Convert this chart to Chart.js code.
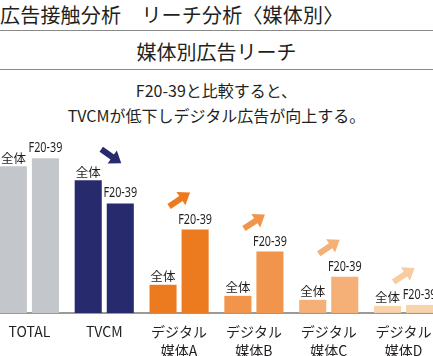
<!DOCTYPE html>
<html><head><meta charset="utf-8">
<script src="https://cdn.jsdelivr.net/npm/chart.js@4"></script>
<style>
html,body{margin:0;padding:0;width:433px;height:356px;overflow:hidden;background:#fff;font-family:'Noto Sans CJK JP','Noto Sans',sans-serif;color:#231f20;}
#h1{position:absolute;left:0;top:2px;font-size:20px;line-height:26px;white-space:nowrap;letter-spacing:0.2px;}
#l1{position:absolute;left:0;top:30px;width:433px;height:0;border-top:1.5px solid #8a8a8a;}
#h2{position:absolute;left:0;top:38px;width:433px;text-align:center;font-size:20px;line-height:28px;}
#l2{position:absolute;left:0;top:69px;width:433px;height:0;border-top:1.5px solid #8a8a8a;}
#sub{position:absolute;left:0;top:78px;width:433px;text-align:center;font-size:16px;line-height:25px;font-weight:400;}
#wrap{position:absolute;left:-8px;top:125px;}
</style></head><body>
<div id="h1">広告接触分析　リーチ分析〈媒体別〉</div>
<div id="l1"></div>
<div id="h2">媒体別広告リーチ</div>
<div id="l2"></div>
<div id="sub">F20-39と比較すると、<br>TVCMが低下しデジタル広告が向上する。</div>
<div id="wrap"><canvas id="c" width="449" height="244"></canvas></div>
<script>
const categories = ['TOTAL', 'TVCM', ['デジタル','媒体A'], ['デジタル','媒体B'], ['デジタル','媒体C'], ['デジタル','媒体D']];
const seriesNames = ['全体', 'F20-39'];
const allValues = [58.4, 52.8, 11.2, 6.8, 5.2, 2.8];
const f2039Values = [61.6, 43.6, 33.2, 24.4, 14.4, 3.2];
const barColors = ['#c3c6ca', '#272a6d', '#ec7a1f', '#f0954b', '#f4b077', '#f9d3ab'];
const arrowColors = [null, '#272a6d', '#ec7a1f', '#f0954b', '#f4b077', '#f8cc9e'];
const arrowDirs = [0, -1, 1, 1, 1, 1];

const labelPlugin = {
  id: 'barLabels',
  afterDatasetsDraw(chart) {
    const ctx = chart.ctx;
    ctx.save();
    chart.data.datasets.forEach((ds, di) => {
      const meta = chart.getDatasetMeta(di);
      meta.data.forEach(bar => {
        ctx.fillStyle = '#231f20';
        ctx.textAlign = 'center';
        ctx.textBaseline = 'bottom';
        if (di === 0) {
          ctx.font = "12.5px 'Noto Sans CJK JP'";
          ctx.fillText(ds.label, bar.x, bar.y - 2);
        } else {
          ctx.save();
          ctx.translate(bar.x, bar.y - 3);
          ctx.scale(0.8, 1);
          ctx.font = "13.5px 'Noto Sans'";
          ctx.fillText(ds.label, 0, 0);
          ctx.restore();
        }
      });
    });
    // arrows
    const m0 = chart.getDatasetMeta(0), m1 = chart.getDatasetMeta(1);
    arrowDirs.forEach((d, i) => {
      if (!d) return;
      const cx = (m0.data[i].x + m1.data[i].x) / 2;
      let x0, y0, x1, y1;
      if (d > 0) {
        const top = m1.data[i].y;
        x0 = cx - 10; y0 = top - 23; x1 = cx + 11; y1 = top - 37;
      } else {
        const top = m0.data[i].y;
        x0 = cx - 3; y0 = top - 31; x1 = cx + 17; y1 = top - 17;
      }
      const ang = Math.atan2(y1 - y0, x1 - x0);
      const len = Math.hypot(x1 - x0, y1 - y0);
      const hl = 11, hw = 8, sw = 3;
      ctx.save();
      ctx.translate(x0, y0);
      ctx.rotate(ang);
      ctx.fillStyle = arrowColors[i];
      ctx.beginPath();
      ctx.moveTo(0, -sw);
      ctx.lineTo(len - hl, -sw);
      ctx.lineTo(len - hl, -hw);
      ctx.lineTo(len, 0);
      ctx.lineTo(len - hl, hw);
      ctx.lineTo(len - hl, sw);
      ctx.lineTo(0, sw);
      ctx.closePath();
      ctx.fill();
      ctx.restore();
    });
    ctx.restore();
  }
};

new Chart(document.getElementById('c'), {
  type: 'bar',
  data: {
    labels: categories,
    datasets: [
      { label: seriesNames[0], data: allValues, backgroundColor: barColors },
      { label: seriesNames[1], data: f2039Values, backgroundColor: barColors }
    ]
  },
  options: {
    responsive: false,
    devicePixelRatio: 1,
    animation: false,
    events: [],
    layout: { padding: 0 },
    categoryPercentage: 0.857,
    barPercentage: 0.844,
    plugins: { legend: { display: false }, tooltip: { enabled: false } },
    scales: {
      y: { display: false, min: 0, max: 74.8 },
      x: {
        grid: { display: false, drawTicks: false },
        border: { display: true, color: '#9a9a9a', width: 2 },
        ticks: { color: '#231f20', padding: 9, maxRotation: 0, autoSkip: false,
          font: { family: "'Noto Sans CJK JP'", size: 14, lineHeight: 1.36 } }
      }
    }
  },
  plugins: [labelPlugin]
});
</script>
</body></html>
